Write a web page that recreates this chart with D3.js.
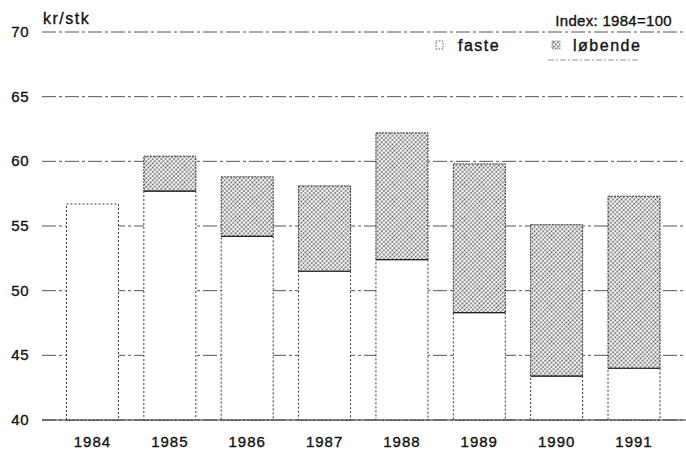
<!DOCTYPE html>
<html>
<head>
<meta charset="utf-8">
<script src="https://cdn.jsdelivr.net/npm/d3@7"></script>
<style>
  body { margin: 0; background: #fff; }
  svg text { font-family: "Liberation Sans", Arial, sans-serif; fill: #111; stroke: #111; stroke-width: 0.35; }
</style>
</head>
<body>
<svg id="chart" width="686" height="451"></svg>
<script>
// Data (kr/stk)
const years = ["1984", "1985", "1986", "1987", "1988", "1989", "1990", "1991"];
const faste = [56.7, 57.7, 54.2, 51.5, 52.4, 48.3, 43.4, 44.0];
const lobende = [56.7, 60.4, 58.8, 58.1, 62.2, 59.8, 55.1, 57.3];
const yTicks = [40, 45, 50, 55, 60, 65, 70];

const svg = d3.select('#chart');

// Scales
const x = d3.scaleBand()
    .domain(years)
    .range([53.8, 672.7])
    .paddingInner(0.328)
    .paddingOuter(0.164);

const y = d3.scaleLinear()
    .domain([40, 70])
    .range([420, 32]);

// Stipple pattern for "løbende"
const defs = svg.append('defs');
const pat = defs.append('pattern')
    .attr('id', 'stipple')
    .attr('patternUnits', 'userSpaceOnUse')
    .attr('width', 3)
    .attr('height', 3)
    .attr('patternTransform', 'rotate(45)');
pat.append('rect').attr('width', 3).attr('height', 3).attr('fill', '#fff');
pat.append('circle').attr('cx', 1.5).attr('cy', 1.5).attr('r', 0.9).attr('fill', '#444');

// Gridlines
svg.append('g')
    .selectAll('line')
    .data(yTicks)
    .join('line')
    .attr('x1', 42)
    .attr('x2', 686)
    .attr('y1', d => y(d))
    .attr('y2', d => y(d))
    .attr('stroke', '#555')
    .attr('stroke-width', 1)
    .attr('stroke-dasharray', '14,3,3,3');

// Tick labels
svg.append('g')
    .selectAll('text')
    .data(yTicks)
    .join('text')
    .attr('x', 29)
    .attr('y', d => y(d) + 5)
    .attr('text-anchor', 'end')
    .attr('font-size', 15)
    .attr('letter-spacing', 0.5)
    .text(d => d);

// Bars
const rows = years.map((yr, i) => ({ yr, f: faste[i], l: lobende[i] }));
const bars = svg.append('g');

// white faste part
bars.selectAll('rect.faste')
    .data(rows)
    .join('rect')
    .attr('class', 'faste')
    .attr('x', d => x(d.yr))
    .attr('width', x.bandwidth())
    .attr('y', d => y(d.f))
    .attr('height', d => y(40) - y(d.f))
    .attr('fill', '#fff')
    .attr('stroke', '#333')
    .attr('stroke-width', 1)
    .attr('stroke-dasharray', '2,2');

// stippled løbende part
bars.selectAll('rect.lob')
    .data(rows.filter(d => d.l > d.f))
    .join('rect')
    .attr('class', 'lob')
    .attr('x', d => x(d.yr))
    .attr('width', x.bandwidth())
    .attr('y', d => y(d.l))
    .attr('height', d => y(d.f) - y(d.l))
    .attr('fill', 'url(#stipple)')
    .attr('stroke', '#333')
    .attr('stroke-width', 1)
    .attr('stroke-dasharray', '2,1');

// faste level line
bars.selectAll('line.level')
    .data(rows.filter(d => d.l > d.f))
    .join('line')
    .attr('class', 'level')
    .attr('x1', d => x(d.yr))
    .attr('x2', d => x(d.yr) + x.bandwidth())
    .attr('y1', d => y(d.f))
    .attr('y2', d => y(d.f))
    .attr('stroke', '#222')
    .attr('stroke-width', 1.2);

// baseline
svg.append('line')
    .attr('x1', 42).attr('x2', 686)
    .attr('y1', y(40)).attr('y2', y(40))
    .attr('stroke', '#333').attr('stroke-width', 1.2);

// Year labels
svg.append('g')
    .selectAll('text')
    .data(years)
    .join('text')
    .attr('x', d => x(d) + x.bandwidth() / 2)
    .attr('y', 447)
    .attr('text-anchor', 'middle')
    .attr('font-size', 15)
    .attr('letter-spacing', 1)
    .text(d => d);

// Unit and index notes
svg.append('text').attr('x', 43).attr('y', 24).attr('font-size', 16)
    .attr('letter-spacing', 1.5).text('kr/stk');
svg.append('text').attr('x', 672).attr('y', 26).attr('text-anchor', 'end')
    .attr('font-size', 15).attr('letter-spacing', 0.3).text('Index: 1984=100');

// Legend
const legend = svg.append('g');
legend.append('rect')
    .attr('x', 436).attr('y', 41).attr('width', 7).attr('height', 8)
    .attr('fill', '#fff').attr('stroke', '#555').attr('stroke-dasharray', '1.5,1.5');
legend.append('text').attr('x', 458).attr('y', 51).attr('font-size', 16)
    .attr('letter-spacing', 1.5).text('faste');
legend.append('rect')
    .attr('x', 552).attr('y', 41).attr('width', 8).attr('height', 8)
    .attr('fill', 'url(#stipple)').attr('stroke', '#888').attr('stroke-dasharray', '1.5,1');
legend.append('text').attr('x', 573).attr('y', 51).attr('font-size', 16)
    .attr('letter-spacing', 1.5).text('løbende');
legend.append('line')
    .attr('x1', 548).attr('x2', 640).attr('y1', 60).attr('y2', 60)
    .attr('stroke', '#999').attr('stroke-dasharray', '6,2,2,2');
</script>
</body>
</html>
